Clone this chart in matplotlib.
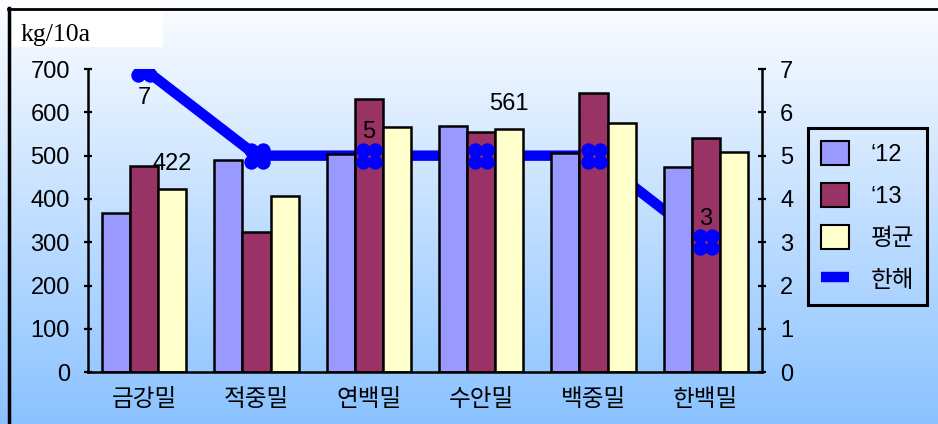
import numpy as np
import matplotlib
matplotlib.use("Agg")
import matplotlib.pyplot as plt
from matplotlib.path import Path
from matplotlib.patches import Patch, Rectangle
from matplotlib.lines import Line2D

plt.rcParams['font.family'] = ['Liberation Sans', 'Noto Sans CJK KR', 'DejaVu Sans']

categories = ['금강밀', '적중밀', '연백밀', '수안밀', '백중밀', '한백밀']
y12 = [368, 489, 503, 569, 507, 474]
y13 = [476, 323, 631, 555, 645, 541]
avg = [422, 407, 567, 561, 576, 508]
hanhae = [7, 5, 5, 5, 5, 3]
avg_labels = {0: '422', 3: '561'}
line_labels = {0: ('7', -21), 2: ('5', 17), 5: ('3', 17)}

W, H = 938, 424
fig = plt.figure(figsize=(W / 100, H / 100), dpi=100)

# background gradient
bg = fig.add_axes([0, 0, 1, 1], zorder=-10)
grad = np.linspace(0, 1, 256)[:, None]
top = np.array([252, 253, 255]) / 255
bot = np.array([138, 194, 255]) / 255
img = top[None, None, :] * (1 - grad[:, :, None]) + bot[None, None, :] * grad[:, :, None]
bg.imshow(img, aspect='auto', extent=[0, 1, 0, 1])
bg.set_xlim(0, 1); bg.set_ylim(0, 1)
bg.axis('off')
# white box for unit label
bg.add_patch(Rectangle((12 / W, 1 - 47 / H), (163 - 12) / W, (47 - 9) / H,
                       facecolor='white', edgecolor='none', transform=bg.transAxes))
# border lines (top, left)
bg.plot([8 / W, 1], [1 - 8.5 / H, 1 - 8.5 / H], color='black', lw=2, transform=bg.transAxes)
bg.plot([8.5 / W, 8.5 / W], [0, 1 - 8 / H], color='black', lw=2.5, transform=bg.transAxes)
bg.text(20 / W, 1 - 35 / H, 'kg/10a', fontsize=18.5, family='Liberation Serif',
        va='center', ha='left', transform=bg.transAxes)

left, right = 88 / W, 762 / W
bottom, topy = 1 - 372.3 / H, 1 - 69 / H
rect = [left, bottom, right - left, topy - bottom]

ax = fig.add_axes(rect, zorder=2)
ax.patch.set_visible(False)
ax_line = fig.add_axes(rect, zorder=1, sharex=ax)
ax_line.patch.set_visible(False)
ax_mark = fig.add_axes(rect, zorder=3, sharex=ax)
ax_mark.patch.set_visible(False)

x = np.arange(len(categories))
bw = 0.25
ax.bar(x - bw, y12, bw, color='#9999FF', edgecolor='black', linewidth=1.8)
ax.bar(x, y13, bw, color='#993366', edgecolor='black', linewidth=1.8)
ax.bar(x + bw, avg, bw, color='#FFFFCC', edgecolor='black', linewidth=1.8)

for i, t in avg_labels.items():
    ax.annotate(t, (x[i] + bw, avg[i]), xytext=(0, 18), textcoords='offset points',
                ha='center', va='center', fontsize=17)

ax.set_xlim(-0.5, len(categories) - 0.5)
ax.set_ylim(0, 700)
ax.set_yticks(range(0, 701, 100))
ax.set_xticks(x)
ax.set_xticklabels(categories, family=['Noto Sans CJK KR'], fontsize=17, fontweight='medium')
ax.tick_params(axis='x', length=0, pad=11)
ax.tick_params(axis='y', direction='inout', length=6, width=1.6, labelsize=17, pad=10)
for s in ['top', 'right']:
    ax.spines[s].set_visible(False)
for s in ['left', 'bottom']:
    ax.spines[s].set_linewidth(1.8)

# line (behind bars)
ax_line.plot(x, hanhae, color='#0000FF', lw=7.5, solid_joinstyle='round', zorder=1)
ax_line.set_ylim(0, 7)
ax_line.axis('off')

# markers (above bars) with right axis
r = 0.55
d = 0.45
circles = [Path.circle((cx, cy), r) for cx, cy in [(-d, -d), (d, -d), (-d, d), (d, d)]]
clover = Path.make_compound_path(*circles)
ax_mark.plot(x, hanhae, linestyle='none', marker=clover, markersize=19,
             color='#0000FF', markeredgewidth=0)
for i, (t, off) in line_labels.items():
    ax_mark.annotate(t, (x[i], hanhae[i]), xytext=(0, off), textcoords='offset points',
                     ha='center', va='center', fontsize=17)
ax_mark.set_ylim(0, 7)
ax_mark.yaxis.tick_right()
ax_mark.set_yticks(range(0, 8))
ax_mark.tick_params(axis='y', direction='inout', length=6, width=1.6, labelsize=17, pad=10)
ax_mark.tick_params(axis='x', bottom=False, labelbottom=False)
for s in ['top', 'left', 'bottom']:
    ax_mark.spines[s].set_visible(False)
ax_mark.spines['right'].set_linewidth(1.8)

handles = [Patch(facecolor='#9999FF', edgecolor='black', linewidth=1.5),
           Patch(facecolor='#993366', edgecolor='black', linewidth=1.5),
           Patch(facecolor='#FFFFCC', edgecolor='black', linewidth=1.5),
           Line2D([0], [0], color='#0000FF', lw=7.5, solid_capstyle='butt')]
labels = ['\u201812', '\u201813', '평균', '한해']
leg = fig.legend(handles, labels, loc='upper left',
                 bbox_to_anchor=(808 / W, 1 - 128 / H), fontsize=17,
                 frameon=True, fancybox=False, edgecolor='black', framealpha=1,
                 handlelength=1.2, handleheight=1.2, labelspacing=0.72,
                 handletextpad=0.9, borderpad=0.55, borderaxespad=0)
leg.get_frame().set_linewidth(2.2)
leg.get_frame().set_facecolor('none')

fig.savefig('out.png', dpi=100)
